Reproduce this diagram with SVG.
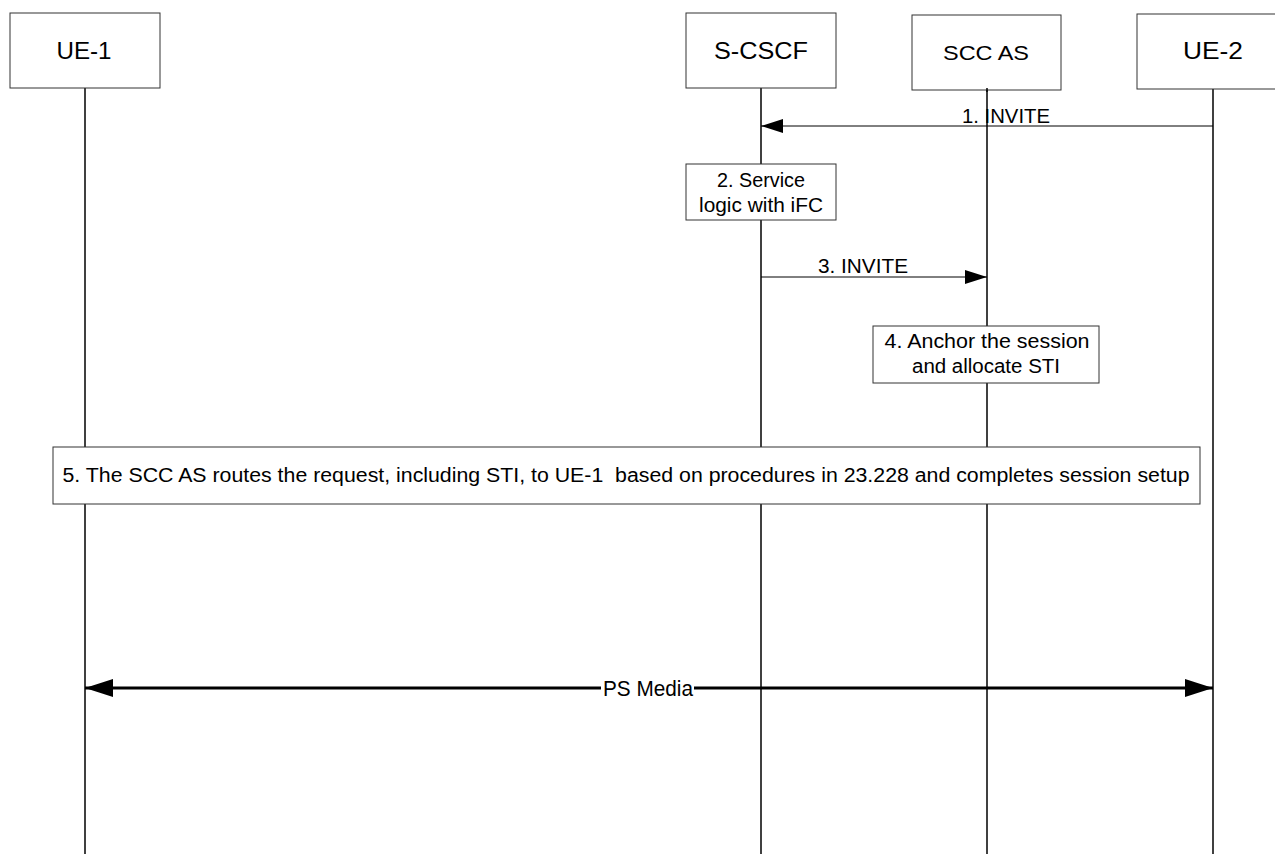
<svg xmlns="http://www.w3.org/2000/svg" width="1275" height="854" viewBox="0 0 1275 854">
<style>
.bg{fill:#fff}
.box{fill:#fff;stroke:#333;stroke-width:1}
.life{stroke:#000;stroke-width:1.5;fill:none}
.msg{stroke:#000;stroke-width:1;fill:none}
.media{stroke:#000;stroke-width:3;fill:none}
text{font-family:"Liberation Sans",Arial,sans-serif;fill:#000;text-anchor:middle}
.hdr{font-size:23px}
.lbl{font-size:20px}
</style>
<defs>
<marker id="ah" markerWidth="22" markerHeight="14" refX="22" refY="7" orient="auto" markerUnits="userSpaceOnUse"><path d="M0,0 L22,7 L0,14 Z" fill="#000"/></marker>
<marker id="ahb" markerWidth="28" markerHeight="18" refX="28" refY="9" orient="auto-start-reverse" markerUnits="userSpaceOnUse"><path d="M0,0 L28,9 L0,18 Z" fill="#000"/></marker>
</defs>
<rect class="bg" x="0" y="0" width="1275" height="854"/>
<g id="lifelines">
<line class="life" x1="85" y1="88" x2="85" y2="854"/>
<line class="life" x1="761" y1="88" x2="761" y2="854"/>
<line class="life" x1="987" y1="88" x2="987" y2="854"/>
<line class="life" x1="1213" y1="88" x2="1213" y2="854"/>
</g>
<g id="ue1"><rect class="box" x="10" y="13" width="150" height="75"/><text class="hdr" x="84" y="59" textLength="55" lengthAdjust="spacingAndGlyphs">UE-1</text></g>
<g id="scscf"><rect class="box" x="686" y="13" width="150" height="75"/><text class="hdr" x="761" y="59" textLength="94" lengthAdjust="spacingAndGlyphs">S-CSCF</text></g>
<g id="sccas"><rect class="box" x="912" y="15" width="149" height="75"/><line class="life" x1="987" y1="88" x2="987" y2="92"/><text class="hdr" style="font-size:21px" x="986" y="60" textLength="86" lengthAdjust="spacingAndGlyphs">SCC AS</text></g>
<g id="ue2"><rect class="box" x="1137" y="14" width="152" height="75"/><text class="hdr" x="1213" y="59" textLength="60" lengthAdjust="spacingAndGlyphs">UE-2</text></g>
<g id="connectors">
<line class="msg" x1="1213" y1="126" x2="761" y2="126" marker-end="url(#ah)"/>
<text class="lbl" x="1006" y="123" textLength="88" lengthAdjust="spacingAndGlyphs">1. INVITE</text>
<line class="msg" x1="761" y1="277" x2="987" y2="277" marker-end="url(#ah)"/>
<text class="lbl" x="863" y="273" textLength="90" lengthAdjust="spacingAndGlyphs">3. INVITE</text>
<line class="media" x1="85" y1="688" x2="1213" y2="688" marker-start="url(#ahb)" marker-end="url(#ahb)"/>
<rect class="bg" x="601" y="676" width="93" height="24"/>
<text class="lbl" style="font-size:22px" x="648" y="696" textLength="90" lengthAdjust="spacingAndGlyphs">PS Media</text>
</g>
<g id="step2"><rect class="box" x="686" y="164" width="150" height="56"/><text class="lbl" x="761" y="187" textLength="88" lengthAdjust="spacingAndGlyphs">2. Service</text><text class="lbl" x="761" y="212" textLength="124" lengthAdjust="spacingAndGlyphs">logic with iFC</text></g>
<g id="step4"><rect class="box" x="873" y="326" width="226" height="57"/><text class="lbl" x="987" y="348" textLength="205" lengthAdjust="spacingAndGlyphs">4. Anchor the session</text><text class="lbl" x="986" y="373" textLength="148" lengthAdjust="spacingAndGlyphs">and allocate STI</text></g>
<g id="step5"><rect class="box" x="53" y="447" width="1147" height="57"/><text class="lbl" xml:space="preserve" x="626" y="482" textLength="1127" lengthAdjust="spacingAndGlyphs">5. The SCC AS routes the request, including STI, to UE-1  based on procedures in 23.228 and completes session setup</text></g>
</svg>
